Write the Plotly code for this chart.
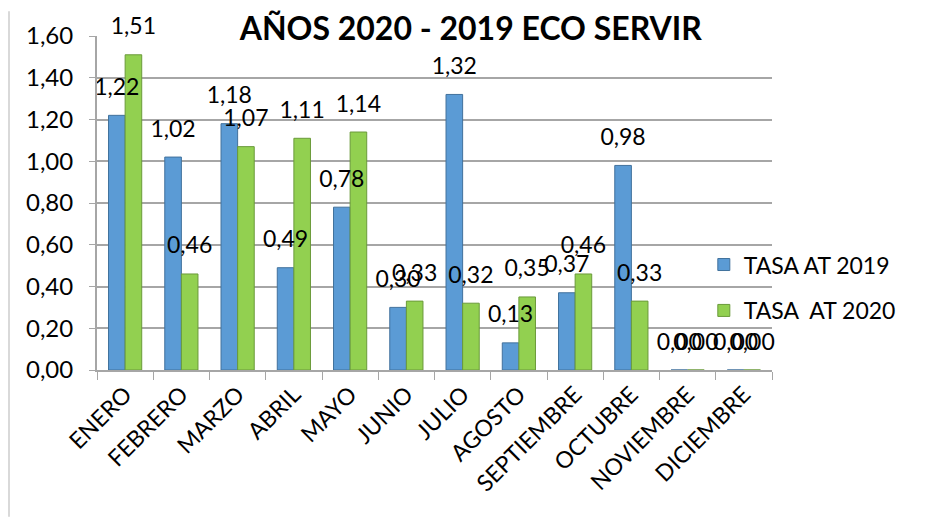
import plotly.graph_objects as go

meses = ["ENERO", "FEBRERO", "MARZO", "ABRIL", "MAYO", "JUNIO", "JULIO",
         "AGOSTO", "SEPTIEMBRE", "OCTUBRE", "NOVIEMBRE", "DICIEMBRE"]
tasa_2019 = [1.22, 1.02, 1.18, 0.49, 0.78, 0.30, 1.32, 0.13, 0.37, 0.98, 0.00, 0.00]
tasa_2020 = [1.51, 0.46, 1.07, 1.11, 1.14, 0.33, 0.32, 0.35, 0.46, 0.33, 0.00, 0.00]

FONT = "Lato, 'Open Sans', sans-serif"
AZUL, AZUL_OSC = "#5b9bd5", "#41719c"
VERDE, VERDE_OSC = "#92d050", "#6a9a3a"

fig = go.Figure()

# region barras
fig.add_trace(go.Bar(
    x=meses, y=tasa_2019, name="TASA AT 2019", legendgroup="a",
    marker=dict(color=AZUL, line=dict(color=AZUL_OSC, width=1)),
))
fig.add_trace(go.Bar(
    x=meses, y=tasa_2020, name="TASA  AT 2020", legendgroup="b",
    marker=dict(color=VERDE, line=dict(color=VERDE_OSC, width=1)),
))
# endregion

# region etiquetas (encima de todas las barras)
for serie in (tasa_2019, tasa_2020):
    fig.add_trace(go.Scatter(
        x=meses, y=serie, mode="markers+text", showlegend=False, hoverinfo="skip",
        texttemplate="%{y:.2f}", textposition="top center",
        textfont=dict(family=FONT, size=23, color="#000000"),
        marker=dict(size=22, opacity=0), cliponaxis=False,
    ))
# endregion

fig.update_layout(
    width=920, height=510,
    margin=dict(l=89, r=156, t=25, b=148),
    paper_bgcolor="white", plot_bgcolor="white",
    separators=",.",
    barmode="group", bargap=0.41, bargroupgap=0,
    scattermode="group", scattergap=0.41,
    font=dict(family=FONT, color="#000000"),
    title=dict(text="<b>AÑOS 2020 - 2019 ECO SERVIR</b>", x=0.503, xanchor="center",
               y=0.96, yanchor="middle", font=dict(family=FONT, size=32)),
    legend=dict(x=0.899, xanchor="left", y=0.38, yanchor="top",
                font=dict(family=FONT, size=23), tracegroupgap=13,
                bgcolor="rgba(0,0,0,0)"),
    showlegend=True,
)

fig.update_yaxes(
    range=[0, 1.6], dtick=0.2, tickformat=".2f",
    showgrid=True, gridcolor="#a6a6a6", gridwidth=2,
    showline=True, linecolor="#a6a6a6", linewidth=2,
    ticks="outside", ticklen=6, tickcolor="#a6a6a6",
    ticklabelstandoff=11, tickfont=dict(family=FONT, size=24),
    zeroline=False,
)
fig.update_xaxes(
    tickangle=-45, tickson="boundaries",
    showline=True, linecolor="#a6a6a6", linewidth=2,
    ticks="outside", ticklen=8, tickcolor="#a6a6a6",
    tickfont=dict(family=FONT, size=23),
)

# borde del gráfico
fig.add_shape(type="line", xref="paper", yref="paper",
              x0=-88 / 675, x1=-88 / 675, y0=-148 / 337, y1=1 + 25 / 337,
              line=dict(color="#d9d9d9", width=2))

fig.write_html("out.html")
